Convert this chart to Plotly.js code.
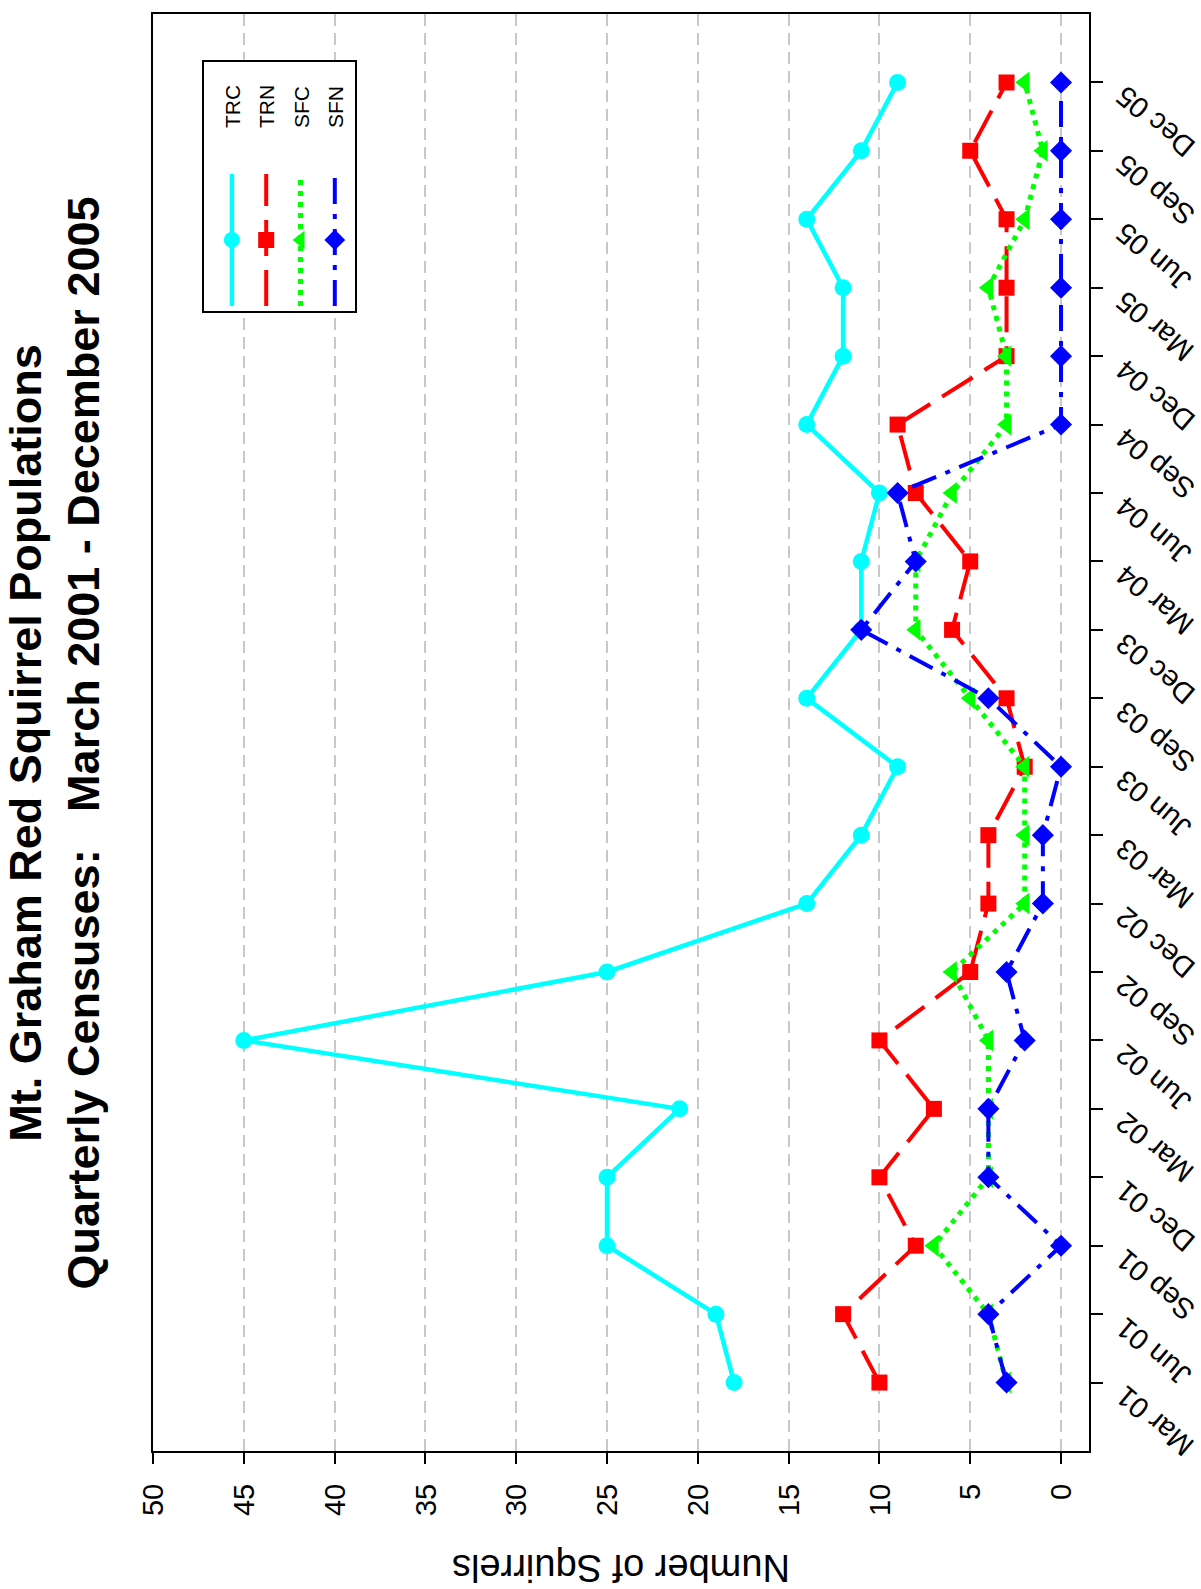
<!DOCTYPE html>
<html><head><meta charset="utf-8">
<script src="https://cdn.plot.ly/plotly-3.0.1.min.js"></script>
<style>
html,body{margin:0;padding:0;width:1201px;height:1589px;overflow:hidden;background:#fff;}
#chart{position:absolute;left:0;top:0;width:1589px;height:1201px;transform-origin:0 0;transform:translate(0px,1589px) rotate(-90deg);}
</style></head><body><div id="chart"></div>
<script>
const quarters = ['Mar 01','Jun 01','Sep 01','Dec 01','Mar 02','Jun 02','Sep 02','Dec 02','Mar 03','Jun 03',
                  'Sep 03','Dec 03','Mar 04','Jun 04','Sep 04','Dec 04','Mar 05','Jun 05','Sep 05','Dec 05'];
const trc = [18,19,25,25,21,45,25,14,11,9,14,11,11,10,14,12,12,14,11,9];
const trn = [10,12,8,10,7,10,5,4,4,2,3,6,5,8,9,3,3,3,5,3];
const sfc = [3,4,7,4,4,4,6,2,2,2,5,8,8,6,3,3,4,2,1,2];
const sfn = [3,4,0,4,4,2,3,1,1,0,4,11,8,9,0,0,0,0,0,0];
const seriesNames = ['TRC','TRN','SFC','SFN'];
const yTicks = [0,5,10,15,20,25,30,35,40,45,50];

const FONT = "Arial, 'Liberation Sans', Helvetica, sans-serif";
const lead = '\u00a0'.repeat(7);
const trail = '\u00a0'.repeat(3);

const traces = [
  {x: quarters, y: trc, name: lead + seriesNames[0] + trail, legendgroup:'a', mode:'lines+markers',
   line:{color:'#00FFFF', width:4.5}, marker:{symbol:'circle', size:17, color:'#00FFFF'}},
  {x: quarters, y: trn, name: lead + seriesNames[1] + trail, legendgroup:'b', mode:'lines+markers',
   line:{color:'#FF0000', width:4, dash:'36px,14px'}, marker:{symbol:'square', size:16, color:'#FF0000'}},
  {x: quarters, y: sfc, name: lead + seriesNames[2] + trail, legendgroup:'c', mode:'lines+markers',
   line:{color:'#00FF00', width:5, dash:'5px,6px'}, marker:{symbol:'triangle-up', size:19, color:'#00FF00'}},
  {x: quarters, y: sfn, name: lead + seriesNames[3] + trail, legendgroup:'d', mode:'lines+markers',
   line:{color:'#0000FF', width:4, dash:'26px,10px,5px,10px'}, marker:{symbol:'diamond', size:17, color:'#0000FF'}}
];

const layout = {
  width:1589, height:1201,
  margin:{l:138, r:14, t:153, b:112, pad:0},
  paper_bgcolor:'#ffffff', plot_bgcolor:'#ffffff',
  font:{family:FONT, color:'#000000'},
  title:{text:'Mt. Graham Red Squirrel Populations<br>Quarterly Censuses:\u00a0\u00a0 March 2001 - December 2005',
         font:{family:FONT, size:45, weight:'bold', color:'#000000'},
         x:0.5324, xref:'container', xanchor:'center', y:0.966, yref:'container', yanchor:'top'},
  xaxis:{type:'category', range:[-1,20], showline:true, mirror:true, linecolor:'#000', linewidth:2,
         ticks:'outside', ticklen:12, tickwidth:2, tickcolor:'#000', tickangle:-50,
         tickfont:{size:29, family:FONT, color:'#000'}, showgrid:false, zeroline:false,
         ticklabelstandoff:-6, ticklabelshift:-13},
  yaxis:{range:[-1.54,50], tickmode:'array', tickvals:yTicks, ticktext:yTicks.map(String),
         showline:true, mirror:true, linecolor:'#000', linewidth:2,
         ticks:'outside', ticklen:11, tickwidth:2, tickcolor:'#000',
         tickfont:{size:29, family:FONT, color:'#000'}, ticklabelstandoff:14,
         showgrid:true, gridcolor:'#c8c8c8', gridwidth:2, griddash:'12px,7px', zeroline:false,
         title:{text:'Number of Squirrels', font:{size:38, family:FONT, color:'#000'}, standoff:65}},
  legend:{x:0.792, xanchor:'left', y:0.9477, yanchor:'top', bordercolor:'#000', borderwidth:2, bgcolor:'#fff',
          font:{size:21, family:FONT, color:'#000'}, itemwidth:132, traceorder:'grouped', tracegroupgap:4,
          title:{text:'\u00a0', font:{size:6, family:FONT, color:'#000'}}},
  showlegend:true
};

Plotly.newPlot('chart', traces, layout, {displayModeBar:false, staticPlot:true});
</script>
</body></html>
